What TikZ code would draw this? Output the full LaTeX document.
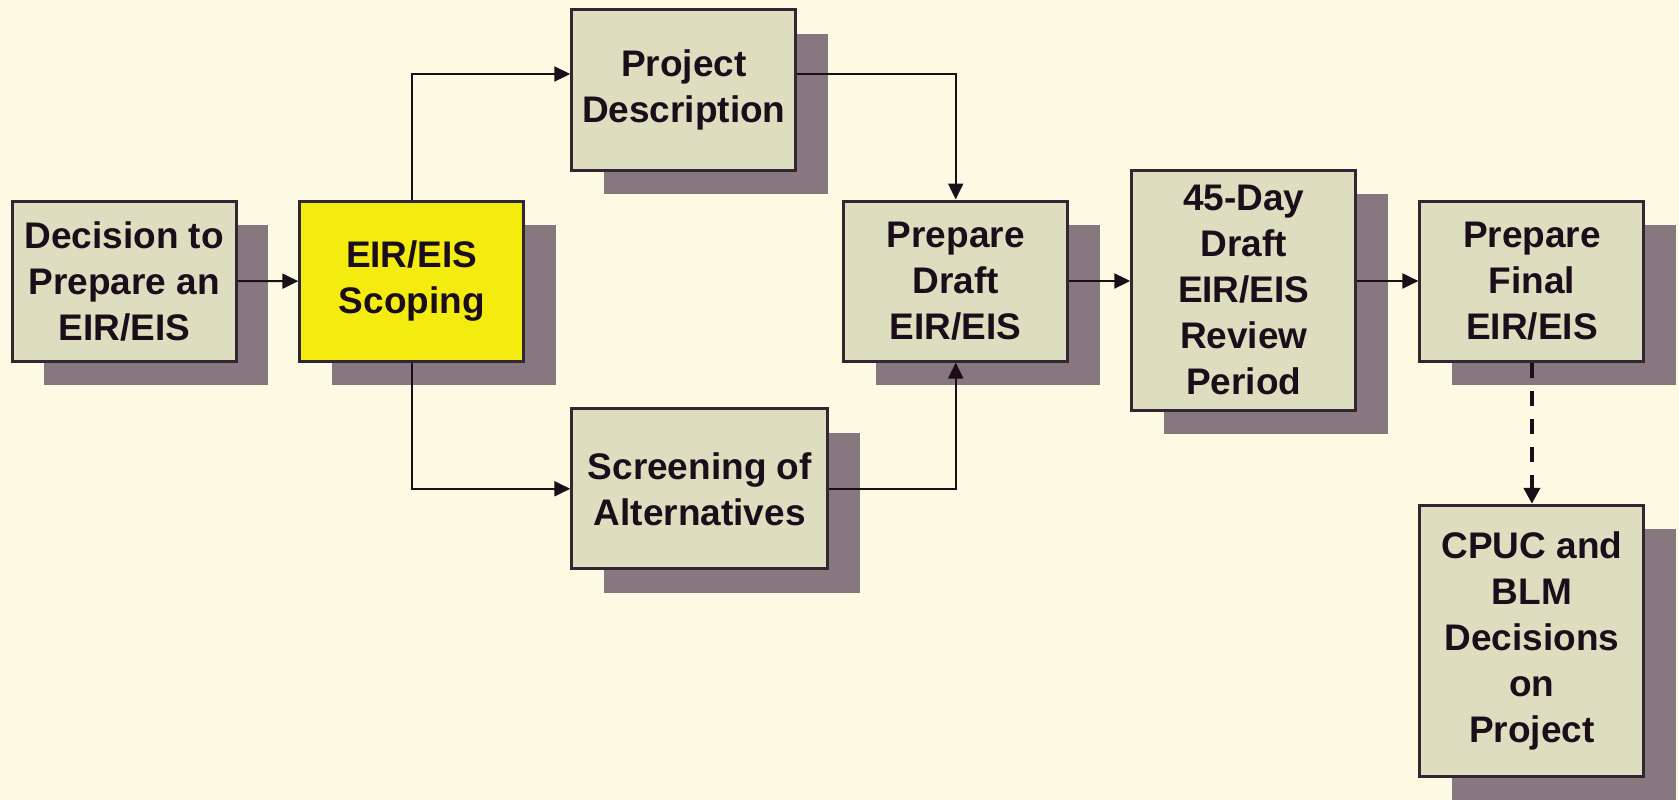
\documentclass[tikz,border=0pt]{standalone}
\usepackage{fontspec}
\setmainfont{Liberation Sans}
\usetikzlibrary{arrows.meta,shadows}
\definecolor{bgc}{RGB}{252,250,226}
\definecolor{boxc}{RGB}{221,222,192}
\definecolor{shadc}{RGB}{135,120,128}
\definecolor{yelc}{RGB}{245,236,15}
\definecolor{inkc}{RGB}{26,14,26}
\begin{document}
\begin{tikzpicture}[
        x=1pt, y=-1pt,
        every node/.style={draw=inkc!90, line width=3pt, fill=boxc, text=inkc, align=center, inner sep=0pt,
            minimum width=224pt, minimum height=160pt,
            font=\fontsize{37}{46}\selectfont\bfseries,
            drop shadow={shadow xshift=32pt, shadow yshift=-24pt, fill=shadc, opacity=1}},
        yeln/.style={fill=yelc},
        arr/.style={draw=inkc, line width=2pt, -{Triangle[length=16pt,width=15pt]}},
        dasharr/.style={draw=inkc, line width=4pt, dash pattern=on 15pt off 13pt, -{Triangle[length=16pt,width=16pt]}},
    ]
    \fill[bgc] (0,0) rectangle (1679,800);
    \useasboundingbox (0,0) rectangle (1679,800);
    \node(dec) at (124.2,281.4){Decision to\\Prepare an\\EIR/EIS};
    \node[yeln](scop) at (411.8,281){EIR/EIS\\Scoping};
    \node(proj) at (683.8,90){Project\\Description};
    \node[minimum width=256pt](scr) at (699.8,488.8){Screening of\\Alternatives};
    \node(draft) at (955.7,281){Prepare\\Draft\\EIR/EIS};
    \node[minimum height=240pt](day) at (1243.8,290){45-Day\\Draft\\EIR/EIS\\Review\\Period};
    \node(fin) at (1531.9,281){Prepare\\Final\\EIR/EIS};
    \node[minimum height=271pt](cpuc) at (1531.9,640.8){CPUC and\\BLM\\Decisions\\on\\Project};
    \draw[arr] (dec) -- (scop);
    \draw[arr] (scop.north) |- ([yshift=16pt]proj.west);
    \draw[arr] ([yshift=16pt]proj.east) -| (draft.north);
    \draw[arr] (scop.south) |- (scr.west);
    \draw[arr] (scr.east) -| (draft.south);
    \draw[arr] (draft.east) -- (draft.east -| day.west);
    \draw[arr] (day.east |- fin.west) -- (fin.west);
    \draw[dasharr] (fin.south) -- (cpuc.north);
\end{tikzpicture}
\end{document}
